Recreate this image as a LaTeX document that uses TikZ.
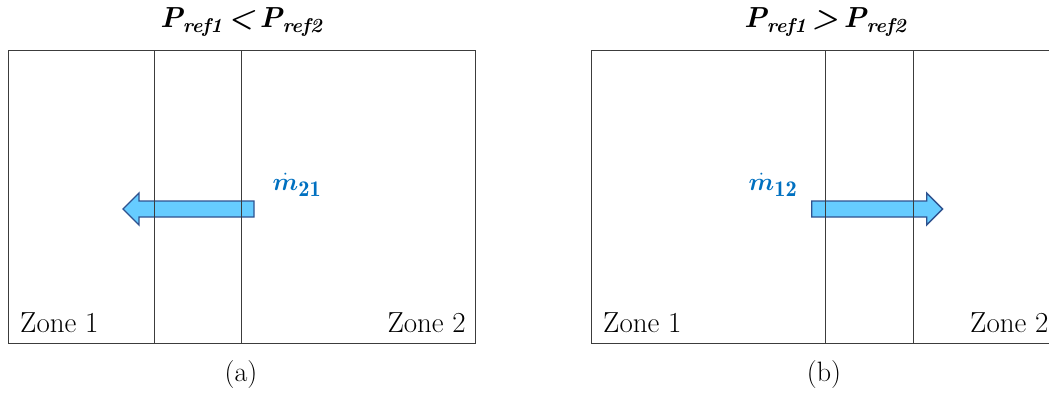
\documentclass[tikz,border=0pt]{standalone}
\usepackage{fontspec}
\usepackage{amsmath,bm}
\definecolor{mblue}{RGB}{0,112,192}
\definecolor{afill}{RGB}{102,204,255}
\definecolor{aedge}{RGB}{47,82,143}
\definecolor{lgray}{RGB}{60,60,60}
\newcommand{\ttlsub}[1]{\raisebox{-0.16em}{\fontsize{20}{24}\selectfont #1}}
\begin{document}
\begin{tikzpicture}[x=1pt,y=-1pt,
  wall/.style={draw=lgray,line width=0.9pt},
  flow/.style={draw=aedge,fill=afill,line width=1.4pt,line join=miter},
  zone/.style={font=\fontsize{29}{34}\selectfont,inner sep=0pt},
  ttl/.style={font=\fontsize{29}{36}\selectfont\bfseries\itshape,inner sep=0pt},
  subcap/.style={font=\fontsize{28}{34}\selectfont,inner sep=0pt},
  mlab/.style={text=mblue,font=\fontsize{32}{38}\selectfont,inner sep=0pt}]
\useasboundingbox (0,0) rectangle (1049,394);
\clip (0,0) rectangle (1049,394);
% ---------- panel (a) ----------
\draw[flow] (254,201) -- (139,201) -- (139,193) -- (123,209) -- (139,225) -- (139,217) -- (254,217) -- cycle;
\draw[wall] (8,50) rectangle (475,343);
\coordinate (a1t) at (154.3,50); \coordinate (a1b) at (154.3,343);
\coordinate (a2t) at (241,50); \coordinate (a2b) at (241,343);
\draw[wall] (a1t) -- (a1b);
\draw[wall] (a2t) -- (a2b);
\node[ttl] (ta) at (241,22) {P\ttlsub{ref1}\hspace{0.2em}<\hspace{0.2em}P\ttlsub{ref2}};
\node[mlab] (ma) at (297,185) {$\bm{\dot{m}}_{\mathbf{21}}$};
\node[zone,anchor=base west] (z1a) at (20,332) {Zone 1};
\node[zone,anchor=base east] (z2a) at (466,332) {Zone 2};
\node[subcap] (ca) at (241,375) {(a)};
% ---------- panel (b) ----------
\draw[flow] (811.7,201) -- (926.7,201) -- (926.7,193) -- (942.7,209) -- (926.7,225) -- (926.7,217) -- (811.7,217) -- cycle;
\draw[wall] (591.3,50) rectangle (1058,343);
\coordinate (b1t) at (825.7,50); \coordinate (b1b) at (825.7,343);
\coordinate (b2t) at (913.3,50); \coordinate (b2b) at (913.3,343);
\draw[wall] (b1t) -- (b1b);
\draw[wall] (b2t) -- (b2b);
\node[ttl] (tb) at (825,22) {P\ttlsub{ref1}\hspace{0.2em}>\hspace{0.2em}P\ttlsub{ref2}};
\node[mlab] (mb) at (773,185) {$\bm{\dot{m}}_{\mathbf{12}}$};
\node[zone,anchor=base west] (z1b) at (603,332) {Zone 1};
\node[zone,anchor=base west] (z2b) at (970,332) {Zone 2};
\node[subcap] (cb) at (824,375) {(b)};
\end{tikzpicture}
\end{document}
